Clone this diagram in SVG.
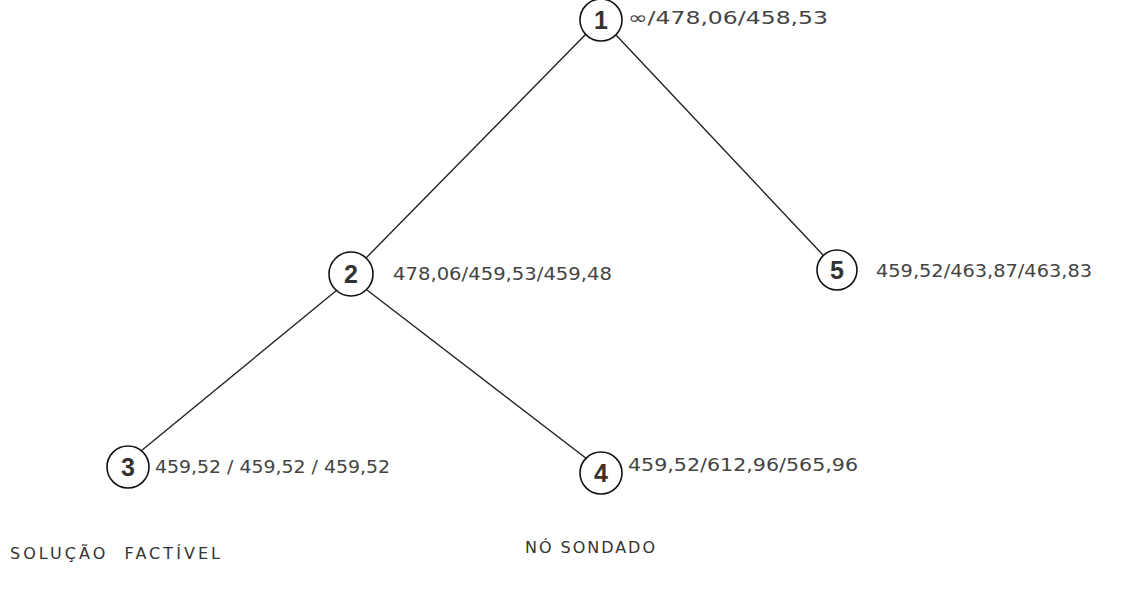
<svg xmlns="http://www.w3.org/2000/svg" width="1130" height="591" viewBox="0 0 1130 591">
<style>
.c{fill:none;stroke:#111;stroke-width:1.6}
.n{font-family:"Liberation Sans",Arial,sans-serif;font-size:25px;font-weight:bold;fill:#333;text-anchor:middle}
.t{font-family:"DejaVu Sans",sans-serif;font-size:18px;fill:#444}
.l{font-family:"DejaVu Sans",sans-serif;font-size:16px;fill:#333}
.e{stroke:#222;stroke-width:1.4;fill:none}
</style>
<rect width="1130" height="591" fill="#fff"/>
<g id="connectors">
<line class="e" x1="586" y1="34" x2="366" y2="258"/>
<line class="e" x1="616" y1="35" x2="823" y2="255"/>
<line class="e" x1="337" y1="290" x2="141" y2="451"/>
<line class="e" x1="367" y1="290" x2="587" y2="459"/>
</g>
<g id="node1">
<circle class="c" cx="601" cy="20" r="21"/>
<text class="n" x="601" y="29">1</text>
<text class="t" x="628" y="24" textLength="200" lengthAdjust="spacingAndGlyphs">∞/478,06/458,53</text>
</g>
<g id="node2">
<circle class="c" cx="351" cy="274" r="22"/>
<text class="n" x="351" y="283">2</text>
<text class="t" x="393" y="280" textLength="219" lengthAdjust="spacingAndGlyphs">478,06/459,53/459,48</text>
</g>
<g id="node5">
<circle class="c" cx="837" cy="270" r="20"/>
<text class="n" x="837" y="279">5</text>
<text class="t" x="876" y="277" textLength="216" lengthAdjust="spacingAndGlyphs">459,52/463,87/463,83</text>
</g>
<g id="node3">
<circle class="c" cx="128" cy="467" r="21"/>
<text class="n" x="128" y="476">3</text>
<text class="t" x="155" y="473" textLength="235" lengthAdjust="spacingAndGlyphs">459,52 / 459,52 / 459,52</text>
<text class="l" x="10" y="559" textLength="210" lengthAdjust="spacing" xml:space="preserve">SOLUÇÃO  FACTÍVEL</text>
</g>
<g id="node4">
<circle class="c" cx="601" cy="473" r="21"/>
<text class="n" x="601" y="482">4</text>
<text class="t" x="628" y="471" textLength="230" lengthAdjust="spacingAndGlyphs">459,52/612,96/565,96</text>
<text class="l" x="525" y="553" textLength="130" lengthAdjust="spacing">NÓ SONDADO</text>
</g>
</svg>
